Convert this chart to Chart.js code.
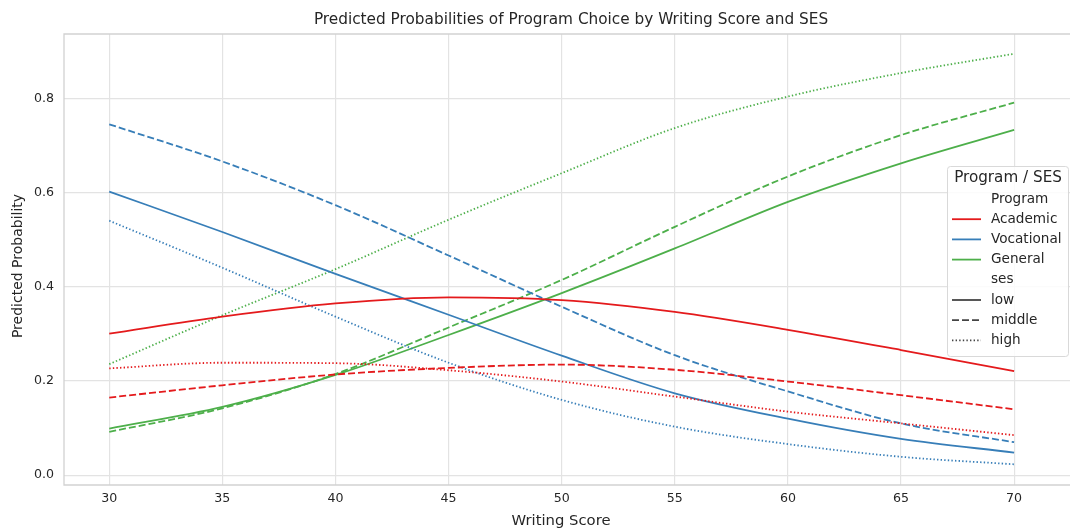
<!DOCTYPE html>
<html>
<head>
<meta charset="utf-8">
<style>
  html, body { margin: 0; padding: 0; background: #ffffff; }
  #wrap { width: 1070px; height: 530px; }
</style>
<script src="https://cdn.jsdelivr.net/npm/chart.js@4/dist/chart.umd.min.js"></script>
</head>
<body>
<div id="wrap"><canvas id="c" width="1070" height="530"></canvas></div>
<script>
// Writing score grid and predicted probabilities per program / SES level
const writingScores = [30, 35, 40, 45, 50, 55, 60, 65, 70];

const academicLow    = [0.301, 0.337, 0.365, 0.378, 0.372, 0.347, 0.309, 0.266, 0.221];
const academicMiddle = [0.165, 0.191, 0.214, 0.228, 0.235, 0.224, 0.199, 0.170, 0.140];
const academicHigh   = [0.227, 0.239, 0.238, 0.223, 0.199, 0.167, 0.135, 0.110, 0.085];

const vocationalLow    = [0.603, 0.517, 0.428, 0.341, 0.254, 0.174, 0.120, 0.077, 0.048];
const vocationalMiddle = [0.746, 0.667, 0.574, 0.467, 0.358, 0.255, 0.178, 0.110, 0.070];
const vocationalHigh   = [0.541, 0.441, 0.337, 0.239, 0.160, 0.103, 0.066, 0.039, 0.023];

const generalLow    = [0.099, 0.145, 0.213, 0.298, 0.387, 0.482, 0.581, 0.663, 0.734];
const generalMiddle = [0.092, 0.142, 0.215, 0.314, 0.415, 0.528, 0.635, 0.723, 0.792];
const generalHigh   = [0.236, 0.340, 0.438, 0.543, 0.642, 0.738, 0.805, 0.855, 0.896];

const xTicks = [30, 35, 40, 45, 50, 55, 60, 65, 70];
const yTicks = [0.0, 0.2, 0.4, 0.6, 0.8];

const programs = ['Academic', 'Vocational', 'General'];
const sesLevels = ['low', 'middle', 'high'];

const programColors = { Academic: '#e41a1c', Vocational: '#377eb8', General: '#4daf4a' };
const sesDash = { low: [], middle: [7, 3], high: [1.4, 2.2] };

const seriesValues = {
  Academic:   { low: academicLow,   middle: academicMiddle,   high: academicHigh },
  Vocational: { low: vocationalLow, middle: vocationalMiddle, high: vocationalHigh },
  General:    { low: generalLow,    middle: generalMiddle,    high: generalHigh }
};

const datasets = [];
programs.forEach(p => {
  sesLevels.forEach(s => {
    datasets.push({
      label: p + ' / ' + s,
      data: writingScores.map((x, i) => ({ x: x, y: seriesValues[p][s][i] })),
      borderColor: programColors[p],
      borderWidth: 1.8,
      borderDash: sesDash[s],
      pointRadius: 0,
      fill: false,
      cubicInterpolationMode: 'monotone'
    });
  });
});

const TEXT = '#262626';
const FONT = "'DejaVu Sans', sans-serif";

// Title, axis titles, frame and the Program / SES legend box
const decorations = {
  id: 'decorations',
  beforeDraw(chart) {
    const ctx = chart.ctx;
    ctx.save();
    ctx.fillStyle = '#ffffff';
    ctx.fillRect(0, 0, chart.width, chart.height);
    ctx.restore();
  },
  afterDraw(chart) {
    const ctx = chart.ctx;
    const a = chart.chartArea;
    ctx.save();
    // frame: left, top and bottom spines
    ctx.strokeStyle = '#d2d2d2';
    ctx.lineWidth = 1.3;
    ctx.beginPath();
    ctx.moveTo(a.right + 1, a.top);
    ctx.lineTo(a.left, a.top);
    ctx.lineTo(a.left, a.bottom);
    ctx.lineTo(a.right + 1, a.bottom);
    ctx.stroke();

    ctx.fillStyle = TEXT;
    ctx.textBaseline = 'middle';
    ctx.textAlign = 'center';

    // chart title
    ctx.font = '15.3px ' + FONT;
    ctx.fillText('Predicted Probabilities of Program Choice by Writing Score and SES', 571, 20);

    // axis titles
    ctx.font = '14.8px ' + FONT;
    ctx.fillText('Writing Score', 561, 521);
    ctx.save();
    ctx.translate(18, 266);
    ctx.rotate(-Math.PI / 2);
    ctx.font = '14px ' + FONT;
    ctx.fillText('Predicted Probability', 0, 0);
    ctx.restore();

    // legend
    const bx = 947.5, by = 166.5, bw = 121, bh = 190;
    ctx.fillStyle = 'rgba(255,255,255,0.85)';
    ctx.strokeStyle = '#d9d9d9';
    ctx.lineWidth = 1;
    ctx.beginPath();
    ctx.roundRect(bx, by, bw, bh, 3);
    ctx.fill();
    ctx.stroke();

    ctx.fillStyle = TEXT;
    ctx.font = '15.2px ' + FONT;
    ctx.textAlign = 'center';
    ctx.fillText('Program / SES', 1008, 178);

    const rows = [
      { text: 'Program', color: null },
      { text: programs[0], color: programColors.Academic, dash: [] },
      { text: programs[1], color: programColors.Vocational, dash: [] },
      { text: programs[2], color: programColors.General, dash: [] },
      { text: 'ses', color: null },
      { text: sesLevels[0], color: '#444444', dash: sesDash.low },
      { text: sesLevels[1], color: '#444444', dash: sesDash.middle },
      { text: sesLevels[2], color: '#444444', dash: sesDash.high }
    ];
    ctx.font = '13.6px ' + FONT;
    ctx.textAlign = 'left';
    rows.forEach((r, i) => {
      const y = 199 + i * 20.2;
      if (r.color) {
        ctx.strokeStyle = r.color;
        ctx.lineWidth = 1.8;
        ctx.setLineDash(r.dash);
        ctx.beginPath();
        ctx.moveTo(952, y);
        ctx.lineTo(981, y);
        ctx.stroke();
        ctx.setLineDash([]);
      }
      ctx.fillStyle = TEXT;
      ctx.fillText(r.text, 991, y);
    });
    ctx.restore();
  }
};

new Chart(document.getElementById('c'), {
  type: 'line',
  data: { datasets: datasets },
  plugins: [decorations],
  options: {
    responsive: false,
    animation: false,
    devicePixelRatio: 1,
    layout: { padding: { top: 34, right: 0, left: 0, bottom: 0 } },
    plugins: {
      legend: { display: false },
      title: { display: false },
      tooltip: { enabled: false }
    },
    scales: {
      x: {
        type: 'linear',
        min: 28,
        max: 72.47,
        afterFit(axis) { axis.height = 45; },
        afterBuildTicks(axis) { axis.ticks = xTicks.map(v => ({ value: v })); },
        grid: { color: '#e3e3e3', lineWidth: 1.2, drawTicks: false },
        border: { display: false },
        ticks: {
          padding: 6,
          color: TEXT,
          font: { family: FONT, size: 12.6 },
          maxRotation: 0,
          callback: v => String(v)
        },
        title: { display: false }
      },
      y: {
        type: 'linear',
        min: -0.021,
        max: 0.938,
        afterFit(axis) { axis.width = 64; },
        afterBuildTicks(axis) { axis.ticks = yTicks.map(v => ({ value: v })); },
        grid: { color: '#e3e3e3', lineWidth: 1.2, drawTicks: false },
        border: { display: false },
        ticks: {
          padding: 10,
          color: TEXT,
          font: { family: FONT, size: 12.6 },
          callback: v => Number(v).toFixed(1)
        },
        title: { display: false }
      }
    }
  }
});
</script>
</body>
</html>
